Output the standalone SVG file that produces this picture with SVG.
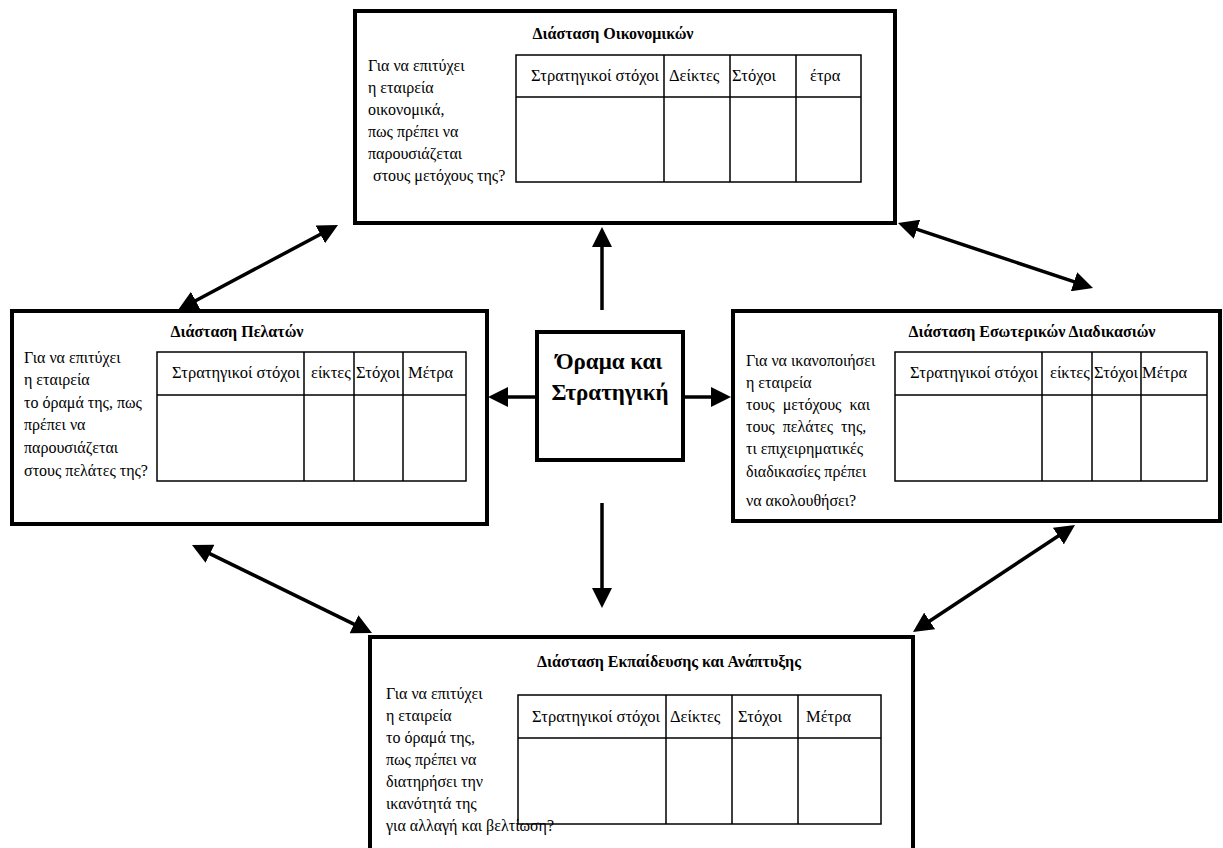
<svg xmlns="http://www.w3.org/2000/svg" width="1223" height="848" viewBox="0 0 1223 848">
<defs>
<style>
.box{fill:#fff;stroke:#000;stroke-width:4}
.tbl{fill:none;stroke:#000;stroke-width:1.5}
.ttl{font-family:"Liberation Serif","Times New Roman",serif;font-size:16px;font-weight:bold;text-anchor:middle;fill:#000}
.txt{font-family:"Liberation Serif","Times New Roman",serif;font-size:16px;fill:#000}
.hd{font-family:"Liberation Serif","Times New Roman",serif;font-size:16.5px;fill:#000}
.ctr{font-family:"Liberation Serif","Times New Roman",serif;font-size:23px;font-weight:bold;text-anchor:middle;fill:#000}
.con{stroke:#000;stroke-width:3.5;fill:none;marker-end:url(#ah)}
.dbl{marker-start:url(#ah)}
</style>
<marker id="ah" markerUnits="userSpaceOnUse" markerWidth="20" markerHeight="20" refX="14" refY="10" orient="auto-start-reverse" viewBox="0 0 20 20">
<path d="M0,0 L20,10 L0,20 z" fill="#000"/>
</marker>
</defs>
<rect width="1223" height="848" fill="#fff"/>

<g id="connectors">
<line class="con" x1="602" y1="310" x2="602" y2="233"/>
<line class="con" x1="537" y1="397" x2="494" y2="397"/>
<line class="con" x1="683" y1="397" x2="725" y2="397"/>
<line class="con" x1="602" y1="503" x2="602" y2="602"/>
<line class="con dbl" x1="183.3" y1="307.2" x2="332.7" y2="227.8"/>
<line class="con dbl" x1="903.7" y1="224.9" x2="1087.3" y2="286.1"/>
<line class="con dbl" x1="197.4" y1="547.6" x2="366.6" y2="630.4"/>
<line class="con dbl" x1="1070" y1="528.3" x2="918" y2="628.7"/>
</g>

<g id="node-financial">
<rect class="box" x="355" y="11" width="540" height="212"/>
<text class="ttl" x="613" y="39">Διάσταση Οικονομικών</text>
<rect class="tbl" x="516" y="55" width="345" height="127"/>
<path class="tbl" d="M516,97 H861 M664,55 V182 M730,55 V182 M796,55 V182"/>
<text class="hd" x="531" y="81">Στρατηγικοί στόχοι</text>
<text class="hd" x="669" y="81">Δείκτες</text>
<text class="hd" x="732" y="81">Στόχοι</text>
<text class="hd" x="810" y="81">έτρα</text>
<text class="txt" x="368" y="71">Για να επιτύχει</text>
<text class="txt" x="368" y="93">η εταιρεία</text>
<text class="txt" x="368" y="115">οικονομικά,</text>
<text class="txt" x="368" y="137">πως πρέπει να</text>
<text class="txt" x="368" y="159">παρουσιάζεται</text>
<text class="txt" x="373" y="181">στους μετόχους της?</text>
</g>

<g id="node-customers">
<rect class="box" x="12" y="311" width="475" height="213"/>
<text class="ttl" x="237" y="337">Διάσταση Πελατών</text>
<rect class="tbl" x="157" y="352" width="309" height="129"/>
<path class="tbl" d="M157,395 H466 M304,352 V481 M354,352 V481 M403,352 V481"/>
<text class="hd" x="172" y="378">Στρατηγικοί στόχοι</text>
<text class="hd" x="311" y="378">είκτες</text>
<text class="hd" x="356" y="378">Στόχοι</text>
<text class="hd" x="408" y="378">Μέτρα</text>
<text class="txt" x="24" y="363">Για να επιτύχει</text>
<text class="txt" x="24" y="385">η εταιρεία</text>
<text class="txt" x="24" y="408">το όραμά της, πως</text>
<text class="txt" x="24" y="430">πρέπει να</text>
<text class="txt" x="24" y="453">παρουσιάζεται</text>
<text class="txt" x="24" y="476">στους πελάτες της?</text>
</g>

<g id="node-internal">
<rect class="box" x="733" y="311" width="487" height="210"/>
<text class="ttl" x="1032" y="337">Διάσταση Εσωτερικών Διαδικασιών</text>
<rect class="tbl" x="895" y="352" width="312" height="129"/>
<path class="tbl" d="M895,395 H1207 M1042,352 V481 M1092,352 V481 M1141,352 V481"/>
<text class="hd" x="910" y="378">Στρατηγικοί στόχοι</text>
<text class="hd" x="1050" y="378">είκτες</text>
<text class="hd" x="1094" y="378">Στόχοι</text>
<text class="hd" x="1142" y="378">Μέτρα</text>
<text class="txt" x="746" y="366">Για να ικανοποιήσει</text>
<text class="txt" x="746" y="388">η εταιρεία</text>
<text class="txt" x="746" y="410" word-spacing="4">τους μετόχους και</text>
<text class="txt" x="746" y="432" word-spacing="4">τους πελάτες της,</text>
<text class="txt" x="746" y="454">τι επιχειρηματικές</text>
<text class="txt" x="746" y="477">διαδικασίες πρέπει</text>
<text class="txt" x="746" y="506">να ακολουθήσει?</text>
</g>

<g id="node-learning">
<rect class="box" x="370" y="637" width="543" height="230"/>
<text class="ttl" x="669" y="667">Διάσταση Εκπαίδευσης και Ανάπτυξης</text>
<rect class="tbl" x="518" y="695" width="363" height="129"/>
<path class="tbl" d="M518,738 H881 M666,695 V824 M732,695 V824 M798,695 V824"/>
<text class="hd" x="532" y="722">Στρατηγικοί στόχοι</text>
<text class="hd" x="670" y="722">Δείκτες</text>
<text class="hd" x="738" y="722">Στόχοι</text>
<text class="hd" x="806" y="722">Μέτρα</text>
<text class="txt" x="386" y="699">Για να επιτύχει</text>
<text class="txt" x="386" y="721">η εταιρεία</text>
<text class="txt" x="386" y="743">το όραμά της,</text>
<text class="txt" x="386" y="765">πως πρέπει να</text>
<text class="txt" x="386" y="787">διατηρήσει την</text>
<text class="txt" x="386" y="809">ικανότητά της</text>
<text class="txt" x="386" y="831">για αλλαγή και βελτίωση?</text>
</g>

<g id="node-vision">
<rect class="box" x="537" y="332" width="146" height="128"/>
<text class="ctr" x="609" y="369">Όραμα και</text>
<text class="ctr" x="610" y="400">Στρατηγική</text>
</g>
</svg>
